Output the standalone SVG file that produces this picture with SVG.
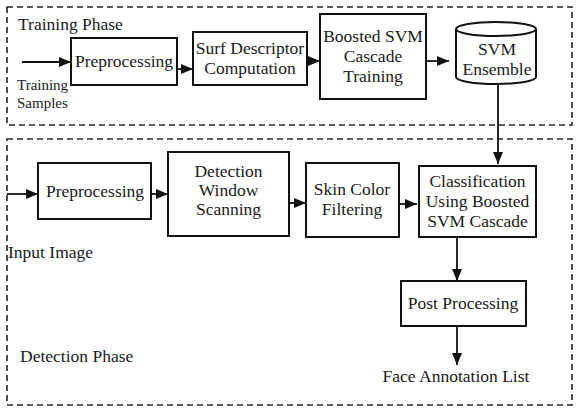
<svg xmlns="http://www.w3.org/2000/svg" width="580" height="408" viewBox="0 0 580 408">
  <style>
    .t { font-family: 'Liberation Serif', 'DejaVu Serif', serif; font-size: 17.5px; fill: #1a1a1a; }
    .c { text-anchor: middle; }
    .s { font-size: 15px; }
    .box { fill: #ffffff; stroke: #111111; stroke-width: 2; }
    .phase { fill: none; stroke: #222222; stroke-width: 1.6; stroke-dasharray: 6 4; }
    .arr { fill: none; stroke: #111111; stroke-width: 1.8; marker-end: url(#ah); }
  </style>
  <defs>
    <marker id="ah" viewBox="0 0 12 10" refX="12" refY="5" markerWidth="12" markerHeight="10" markerUnits="userSpaceOnUse" orient="auto">
      <path d="M0,0 L12,5 L0,10 z" fill="#111111"/>
    </marker>
  </defs>
  <rect width="580" height="408" fill="#ffffff"/>

  <g id="training-phase">
    <rect class="phase" x="7" y="7" width="565" height="118"/>
    <text class="t" x="18" y="30">Training Phase</text>
  </g>
  <g id="detection-phase">
    <rect class="phase" x="7" y="139" width="565" height="266"/>
    <text class="t" x="20" y="362">Detection Phase</text>
  </g>

  <g id="training-samples">
    <text class="t s" x="17" y="90">Training</text>
    <text class="t s" x="17" y="108">Samples</text>
  </g>
  <g id="t-preprocessing">
    <rect class="box" x="71" y="38" width="106" height="47"/>
    <text class="t c" x="124" y="67">Preprocessing</text>
  </g>
  <g id="surf">
    <rect class="box" x="193" y="32" width="114" height="53"/>
    <text class="t c" x="250" y="54">Surf Descriptor</text>
    <text class="t c" x="250" y="74">Computation</text>
  </g>
  <g id="boosted-training">
    <rect class="box" x="320" y="14" width="106" height="85"/>
    <text class="t c" x="373" y="42">Boosted SVM</text>
    <text class="t c" x="373" y="62">Cascade</text>
    <text class="t c" x="373" y="82">Training</text>
  </g>
  <g id="svm-ensemble">
    <path d="M456,29 L456,77 A40,7 0 0,0 536,77 L536,29" fill="#ffffff" stroke="#111111" stroke-width="2"/>
    <ellipse cx="496" cy="29" rx="40" ry="7" fill="#ffffff" stroke="#111111" stroke-width="2"/>
    <text class="t c" x="497" y="55">SVM</text>
    <text class="t c" x="497" y="75">Ensemble</text>
  </g>

  <g id="input-image">
    <text class="t" x="8" y="258">Input Image</text>
  </g>
  <g id="d-preprocessing">
    <rect class="box" x="38" y="163" width="113" height="56"/>
    <text class="t c" x="95" y="197">Preprocessing</text>
  </g>
  <g id="window-scanning">
    <rect class="box" x="168" y="152" width="121" height="84"/>
    <text class="t c" x="228.5" y="177">Detection</text>
    <text class="t c" x="228.5" y="196">Window</text>
    <text class="t c" x="228.5" y="215">Scanning</text>
  </g>
  <g id="skin-filtering">
    <rect class="box" x="306" y="163" width="93" height="74"/>
    <text class="t c" x="352" y="195">Skin Color</text>
    <text class="t c" x="352" y="215">Filtering</text>
  </g>
  <g id="classification">
    <rect class="box" x="419" y="166" width="117" height="71"/>
    <text class="t c" x="477.5" y="187">Classification</text>
    <text class="t c" x="477.5" y="207">Using Boosted</text>
    <text class="t c" x="477.5" y="227">SVM Cascade</text>
  </g>
  <g id="post-processing">
    <rect class="box" x="401" y="281" width="125" height="45"/>
    <text class="t c" x="463" y="309">Post Processing</text>
  </g>
  <g id="face-list">
    <text class="t c" x="456" y="382">Face Annotation List</text>
  </g>

  <g id="connectors">
    <line class="arr" x1="22" y1="62" x2="71" y2="62"/>
    <line class="arr" x1="177" y1="69" x2="193" y2="69"/>
    <line class="arr" x1="307" y1="61" x2="320" y2="61"/>
    <line class="arr" x1="426" y1="61" x2="449" y2="61"/>
    <line class="arr" x1="498" y1="84" x2="498" y2="164"/>
    <line class="arr" x1="7" y1="194" x2="38" y2="194"/>
    <line class="arr" x1="151" y1="194" x2="168" y2="194"/>
    <line class="arr" x1="289" y1="203" x2="306" y2="203"/>
    <line class="arr" x1="399" y1="204" x2="417" y2="204"/>
    <line class="arr" x1="457" y1="237" x2="457" y2="281"/>
    <line class="arr" x1="457" y1="326" x2="457" y2="365"/>
  </g>
</svg>
